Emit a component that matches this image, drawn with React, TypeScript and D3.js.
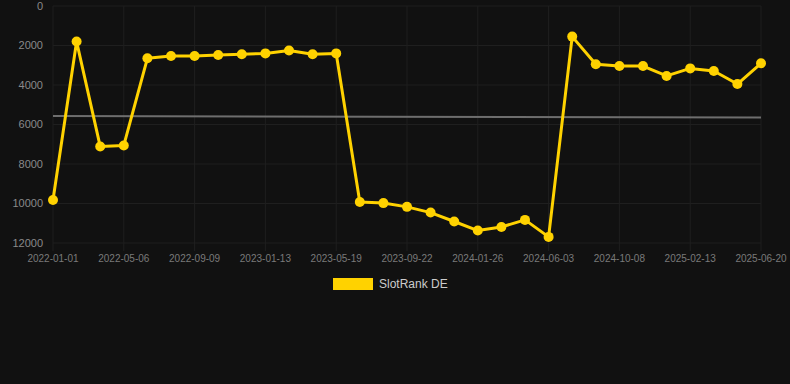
import * as d3 from 'd3';
import { useEffect, useRef } from 'react';

// rank values, one point per step (0 = best)
const rankValues = [
  9820, 1800, 7110, 7060, 2650, 2530, 2530, 2480, 2440, 2400, 2250, 2440, 2400,
  9920, 9980, 10170, 10460, 10910, 11370, 11190, 10830, 11690, 1550, 2950, 3040,
  3040, 3540, 3160, 3290, 3950, 2900,
];

// date labels shown every third point
const tickLabels = [
  '2022-01-01', '2022-05-06', '2022-09-09', '2023-01-13', '2023-05-19',
  '2023-09-22', '2024-01-26', '2024-06-03', '2024-10-08', '2025-02-13',
  '2025-06-20',
];

const yTicks = [0, 2000, 4000, 6000, 8000, 10000, 12000];

// grey trend line, start and end value
const trendValues = [5570, 5650];

const seriesName = 'SlotRank DE';

const dims = {
  width: 790,
  height: 384,
  left: 53,
  right: 761,
  top: 6,
  bottom: 243,
};

export default function App() {
  const svgRef = useRef(null);

  useEffect(() => {
    const svg = d3.select(svgRef.current);
    svg.selectAll('*').remove();

    const font = 'Helvetica, Arial, "Liberation Sans", sans-serif';

    const x = d3
      .scaleLinear()
      .domain([0, rankValues.length - 1])
      .range([dims.left, dims.right]);

    const y = d3
      .scaleLinear()
      .domain([0, 12000])
      .range([dims.top, dims.bottom]);

    svg
      .append('rect')
      .attr('width', dims.width)
      .attr('height', dims.height)
      .attr('fill', '#111111');

    // horizontal grid + y labels
    const gy = svg.append('g');
    yTicks.forEach((t) => {
      gy.append('line')
        .attr('x1', dims.left)
        .attr('x2', dims.right)
        .attr('y1', y(t))
        .attr('y2', y(t))
        .attr('stroke', '#1f1f1f')
        .attr('stroke-width', 1);
      gy.append('text')
        .attr('x', 43)
        .attr('y', y(t))
        .attr('dy', '0.35em')
        .attr('text-anchor', 'end')
        .style('font-family', font)
        .style('font-size', '11px')
        .attr('fill', '#8a8a8a')
        .text(String(t));
    });

    // vertical grid + x labels
    const gx = svg.append('g');
    tickLabels.forEach((label, i) => {
      const xi = x(i * 3);
      gx.append('line')
        .attr('x1', xi)
        .attr('x2', xi)
        .attr('y1', dims.top)
        .attr('y2', dims.bottom + 8)
        .attr('stroke', '#1f1f1f')
        .attr('stroke-width', 1);
      gx.append('text')
        .attr('x', xi)
        .attr('y', 262)
        .attr('text-anchor', 'middle')
        .style('font-family', font)
        .style('font-size', '10px')
        .attr('fill', '#7a7a7a')
        .text(label);
    });

    // trend line
    svg
      .append('line')
      .attr('x1', x(0))
      .attr('x2', x(rankValues.length - 1))
      .attr('y1', y(trendValues[0]))
      .attr('y2', y(trendValues[1]))
      .attr('stroke', '#6e6e6e')
      .attr('stroke-width', 2);

    const line = d3
      .line<number>()
      .x((d, i) => x(i))
      .y((d) => y(d));

    svg
      .append('path')
      .datum(rankValues)
      .attr('d', line as any)
      .attr('fill', 'none')
      .attr('stroke', '#ffd200')
      .attr('stroke-width', 3)
      .attr('stroke-linejoin', 'round');

    svg
      .append('g')
      .selectAll('circle')
      .data(rankValues)
      .enter()
      .append('circle')
      .attr('cx', (d, i) => x(i))
      .attr('cy', (d) => y(d))
      .attr('r', 5)
      .attr('fill', '#ffd200');

    // legend
    const lg = svg.append('g');
    lg.append('rect')
      .attr('x', 333)
      .attr('y', 278)
      .attr('width', 40)
      .attr('height', 12)
      .attr('fill', '#ffd200');
    lg.append('text')
      .attr('x', 379)
      .attr('y', 284)
      .attr('dy', '0.35em')
      .style('font-family', font)
      .style('font-size', '12px')
      .attr('fill', '#cccccc')
      .text(seriesName);
  }, []);

  return (
    <div style={{ position: 'absolute', left: 0, top: 0 }}>
      <svg ref={svgRef} width={dims.width} height={dims.height}></svg>
    </div>
  );
}
